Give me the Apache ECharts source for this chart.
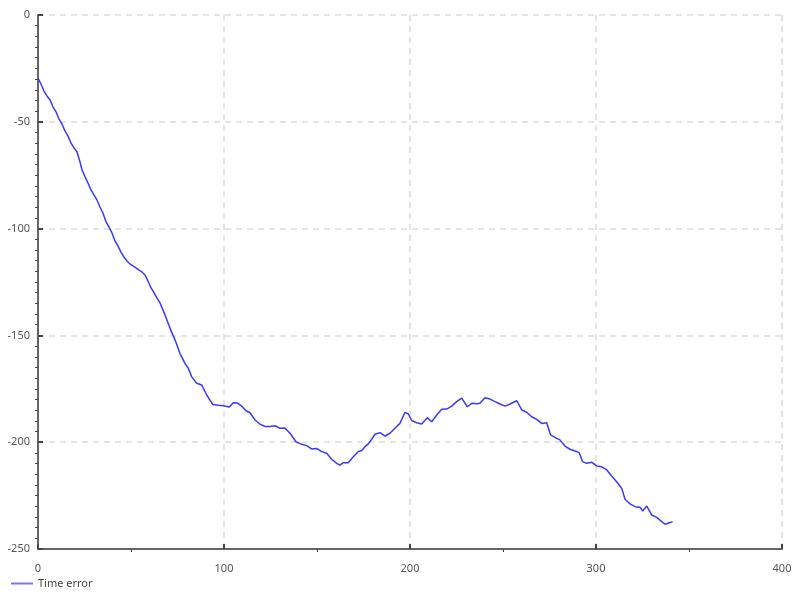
<!DOCTYPE html>
<html>
<head>
<meta charset="utf-8">
<script src="https://cdn.jsdelivr.net/npm/echarts@6/dist/echarts.min.js"></script>
<style>html,body{margin:0;padding:0;background:#fff}#c{width:800px;height:600px}</style>
</head>
<body>
<div id="c"></div>
<script>
const seriesName = "Time error";
const xTicks = [0, 100, 200, 300, 400];
const yTicks = [0, -50, -100, -150, -200, -250];
const timeX = [0,1.6,3.2,4.8,6.5,8.1,9.7,11.3,12.9,14.5,16.1,17.7,19.4,21.0,22.6,23.7,25.3,26.9,28.5,30.1,31.7,33.3,34.9,36.6,38.2,39.8,41.4,43.0,44.6,46.2,47.8,49.5,51.1,52.7,54.3,55.9,57.5,59.1,60.8,62.4,64.0,65.6,68.3,71.0,73.7,76.3,79.0,80.8,82.6,85.3,88.0,90.7,93.9,96.9,99.6,102.8,105.0,107.2,109.5,111.8,114.0,116.7,119.4,122.0,124.7,127.4,130.1,132.8,135.5,138.7,141.8,144.5,147.2,149.8,152.5,155.2,157.9,160.6,162.4,164.1,166.8,169.5,172.2,174.0,175.8,177.6,179.4,181.2,183.9,186.6,189.2,191.9,194.6,197.3,199.1,200.9,203.6,206.3,209.3,211.7,214.4,217.0,219.7,222.4,225.1,227.8,228.7,230.8,233.2,235.9,237.6,240.3,243.0,245.7,248.4,251.1,253.8,257.4,260.1,262.7,265.4,268.1,270.8,273.5,275.6,278.9,280.6,283.3,286.0,288.7,291.0,292.8,295.0,297.7,300.4,303.1,305.8,308.4,311.1,313.8,315.6,318.3,321.0,323.7,325.1,327.3,330.0,332.6,334.9,337.1,339.4,341.2];
const timeError = [-29.5,-32.3,-35.6,-37.9,-39.8,-43.1,-45.4,-48.7,-51.0,-54.3,-56.6,-59.9,-62.3,-64.1,-68.8,-72.6,-75.8,-78.7,-81.9,-84.3,-86.6,-89.9,-92.7,-96.9,-99.3,-102.1,-105.8,-108.1,-111.0,-113.3,-115.2,-116.6,-117.5,-118.4,-119.4,-120.3,-121.7,-124.5,-127.8,-130.1,-132.5,-134.8,-140.4,-146.7,-152.2,-158.4,-163.1,-165.4,-169.3,-172.4,-173.2,-177.9,-182.3,-182.7,-182.9,-183.5,-181.5,-181.6,-183.1,-185.3,-186.2,-189.6,-191.6,-192.6,-192.6,-192.3,-193.5,-193.4,-195.8,-199.8,-201.0,-201.6,-203.2,-202.9,-204.4,-205.2,-208.0,-209.9,-210.7,-209.6,-209.6,-206.8,-204.4,-204.0,-202.1,-200.8,-198.6,-196.3,-195.5,-197.1,-195.8,-193.5,-191.2,-186.0,-186.8,-189.9,-190.9,-191.5,-188.5,-190.4,-187.3,-184.6,-184.5,-183.1,-181.0,-179.4,-180.2,-183.4,-181.8,-182.0,-181.8,-179.2,-179.8,-181.0,-182.1,-183.1,-182.1,-180.6,-184.9,-186.0,-188.1,-189.3,-191.2,-190.9,-196.6,-198.2,-198.9,-201.8,-203.3,-204.1,-204.9,-209.1,-209.9,-209.4,-211.1,-211.5,-213.0,-215.8,-218.5,-221.6,-226.7,-228.9,-230.2,-230.5,-232.2,-229.9,-234.1,-235.2,-236.8,-238.4,-237.7,-237.2];

const chart = echarts.init(document.getElementById('c'), null, {renderer: 'canvas'});
const font = '"Noto Sans", sans-serif';
const axisCommon = {
  axisLine: {show: true, onZero: false, lineStyle: {color: '#666', width: 2}},
  axisTick: {show: true, inside: true, length: 5, lineStyle: {color: '#444', width: 2}},
  minorTick: {show: true, length: -3, lineStyle: {color: '#444', width: 1}},
  splitLine: {show: true, lineStyle: {color: '#dcdcdc', type: [6, 5], width: 1.5}},
  axisLabel: {color: '#555', fontSize: 11, fontFamily: font}
};
chart.setOption({
  animation: false,
  textStyle: {fontFamily: font},
  grid: {left: 38, right: 18, top: 15, bottom: 51, containLabel: false},
  xAxis: Object.assign({}, axisCommon, {
    type: 'value', min: xTicks[0], max: xTicks[xTicks.length - 1], interval: 100,
    minorTick: Object.assign({}, axisCommon.minorTick, {splitNumber: 2}),
    axisLabel: Object.assign({}, axisCommon.axisLabel, {margin: 14})
  }),
  yAxis: Object.assign({}, axisCommon, {
    type: 'value', min: yTicks[yTicks.length - 1], max: yTicks[0], interval: 50,
    minorTick: Object.assign({}, axisCommon.minorTick, {splitNumber: 10}),
    axisLabel: Object.assign({}, axisCommon.axisLabel, {margin: 8})
  }),
  legend: {
    show: true, left: 6, bottom: 6, itemWidth: 22, itemHeight: 10, itemGap: 10,
    textStyle: {color: '#444', fontSize: 11, fontFamily: font},
    data: [{name: seriesName, icon: 'path://M0,4 L22,4 L22,6 L0,6 Z', itemStyle: {color: '#7777ff'}}]
  },
  series: [{
    name: seriesName, type: 'line', symbol: 'none', showSymbol: false,
    lineStyle: {color: '#3a3aff', width: 1.5}, itemStyle: {color: '#3a3aff'},
    data: timeX.map((x, i) => [x, timeError[i]])
  }]
});
</script>
</body>
</html>
